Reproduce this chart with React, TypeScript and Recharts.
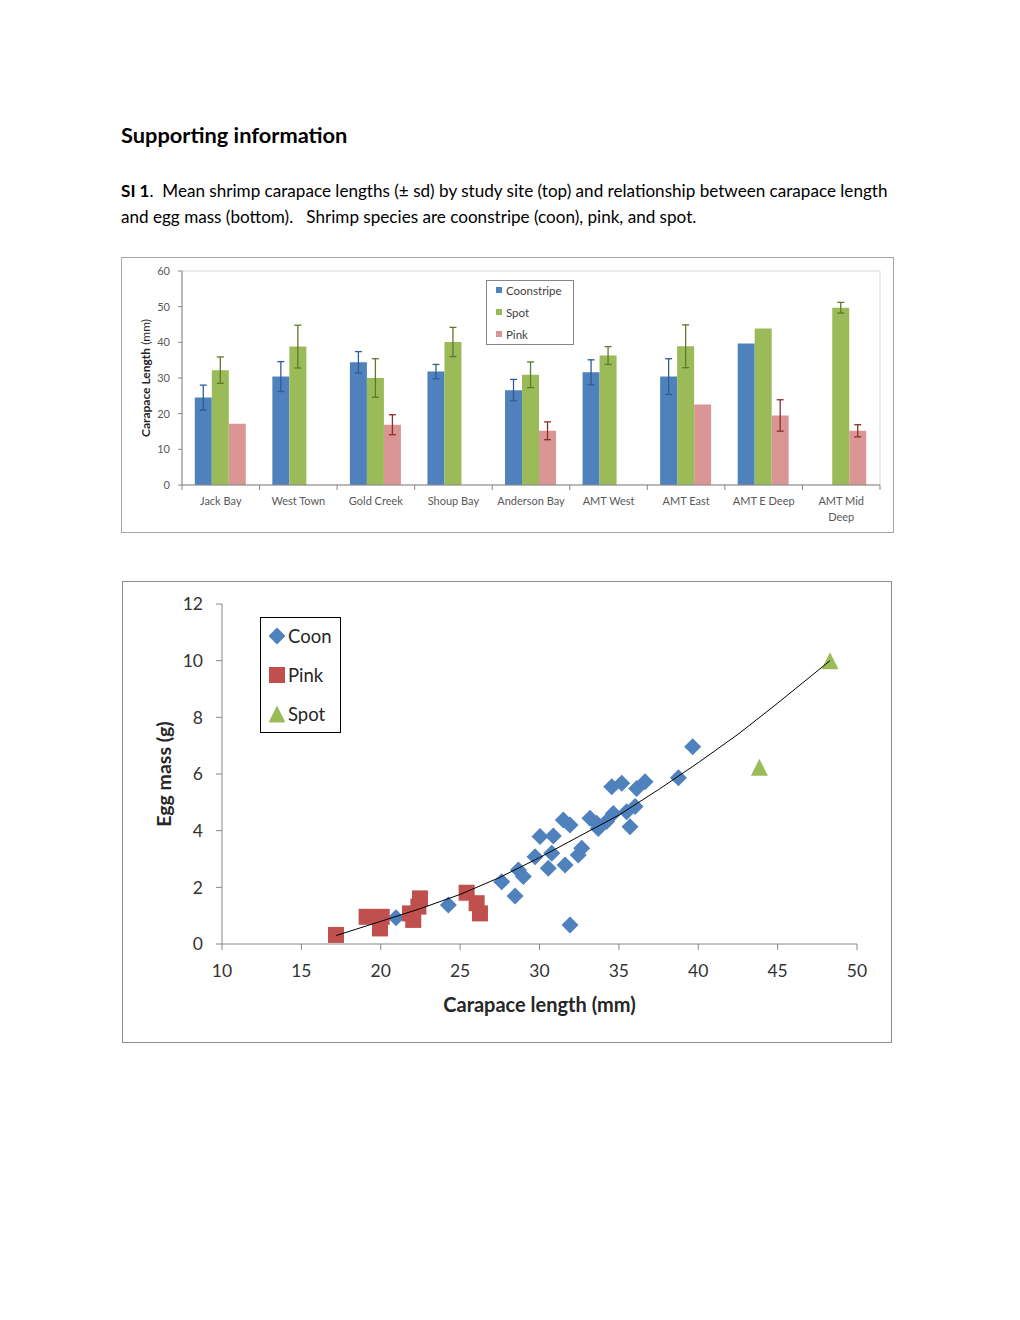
import React from 'react';
import {
  BarChart,
  Bar,
  XAxis,
  YAxis,
  ErrorBar,
  ReferenceArea,
  Label,
  ScatterChart,
  Scatter,
} from 'recharts';

// ---- top panel: mean carapace length by site ----
const sites = [
  'Jack Bay',
  'West Town',
  'Gold Creek',
  'Shoup Bay',
  'Anderson Bay',
  'AMT West',
  'AMT East',
  'AMT E Deep',
  'AMT Mid Deep',
];
const siteTickLabels = [
  'Jack Bay',
  'West Town',
  'Gold Creek',
  'Shoup Bay',
  'Anderson Bay',
  'AMT West',
  'AMT East',
  'AMT E Deep',
  'AMT Mid\nDeep',
];
const coonMean = [24.5, 30.4, 34.4, 31.8, 26.6, 31.6, 30.4, 39.7, null];
const coonSd = [3.5, 4.2, 3.0, 2.0, 3.0, 3.5, 5.0, null, null];
const spotMean = [32.2, 38.8, 30.0, 40.1, 30.9, 36.3, 38.9, 43.9, 49.7];
const spotSd = [3.7, 6.0, 5.4, 4.1, 3.6, 2.5, 6.0, null, 1.5];
const pinkMean = [17.2, null, 16.9, null, 15.2, null, 22.6, 19.5, 15.2];
const pinkSd = [null, null, 2.8, null, 2.5, null, null, 4.4, 1.7];
const barTicks = [0, 10, 20, 30, 40, 50, 60];
const barSeries = ['Coonstripe', 'Spot', 'Pink'];

// ---- bottom panel: egg mass vs carapace length ----
const coonLength = [
  20.96, 24.26, 27.62, 28.46, 28.67, 28.98, 29.72, 30.03, 30.55, 30.87, 30.77,
  31.5, 31.92, 31.61, 31.92, 32.44, 32.66, 33.18, 33.6, 33.7, 34.23, 34.55,
  35.18, 34.65, 35.7, 35.49, 36.02, 36.12, 36.65, 38.75, 39.65,
];
const coonMass = [
  0.93, 1.38, 2.2, 1.69, 2.61, 2.38, 3.08, 3.79, 2.67, 3.81, 3.2,
  4.38, 4.2, 2.79, 0.67, 3.14, 3.38, 4.44, 4.26, 4.08, 4.32, 5.55,
  5.67, 4.61, 4.14, 4.67, 4.85, 5.49, 5.73, 5.87, 6.96,
];
const pinkLength = [17.18, 19.11, 20.06, 19.95, 22.47, 22.37, 21.84, 22.05, 25.41, 26.04, 26.25];
const pinkMass = [0.32, 0.96, 0.96, 0.55, 1.61, 1.32, 1.08, 0.85, 1.81, 1.44, 1.08];
const spotLength = [43.85, 48.3];
const spotMass = [6.24, 10.0];
// trend line
const trendLength = [17.2, 20, 22.5, 25, 27.5, 30, 32.5, 35, 37.5, 40, 42.5, 45, 48.3];
const trendMass = [0.3, 0.8, 1.25, 1.75, 2.35, 3.05, 3.8, 4.55, 5.45, 6.4, 7.4, 8.5, 10.0];
const lengthTicks = [10, 15, 20, 25, 30, 35, 40, 45, 50];
const massTicks = [0, 2, 4, 6, 8, 10, 12];
const scatterSeries = ['Coon', 'Pink', 'Spot'];

const BLUE = '#4f81bd';
const GREEN = '#9bbb59';
const PINK = '#d99694';
const RED = '#c0504d';
const AXIS = '#868686';

const barData = sites.map((site, i) => ({
  site,
  coon: coonMean[i],
  coonSd: coonSd[i],
  spot: spotMean[i],
  spotSd: spotSd[i],
  pink: pinkMean[i],
  pinkSd: pinkSd[i],
}));

const toPoints = (xs: number[], ys: number[]) => xs.map((x, i) => ({ x, y: ys[i] }));
const coonData = toPoints(coonLength, coonMass);
const pinkData = toPoints(pinkLength, pinkMass);
const spotData = toPoints(spotLength, spotMass);
const trendData = toPoints(trendLength, trendMass);

function SiteTick(props: any) {
  const { x, y, payload, index } = props;
  const half = payload?.offset ?? (props.width ?? 698) / sites.length / 2;
  const lines = siteTickLabels[index].split('\n');
  return (
    <g>
      <line x1={x - half} y1={y} x2={x - half} y2={y + 5} stroke={AXIS} />
      {index === sites.length - 1 && (
        <line x1={x + half} y1={y} x2={x + half} y2={y + 5} stroke={AXIS} />
      )}
      <text x={x} y={y} textAnchor="middle" fill="#595959" fontSize={11}>
        {lines.map((l, i) => (
          <tspan key={i} x={x} dy={i === 0 ? 20 : 16}>
            {l}
          </tspan>
        ))}
      </text>
    </g>
  );
}

function barYLabel(props: any) {
  const { x, y, height } = props.viewBox;
  const cx = x + 3;
  const cy = y + height / 2;
  return (
    <text
      x={cx}
      y={cy}
      transform={`rotate(-90 ${cx} ${cy})`}
      textAnchor="middle"
      dominantBaseline="central"
      fontSize={12}
      fill="#262626"
    >
      <tspan fontWeight={700}>Carapace Length</tspan>
      <tspan> (mm)</tspan>
    </text>
  );
}

function massYLabel(props: any) {
  const { x, y, height } = props.viewBox;
  const cx = x + 40;
  const cy = y + height / 2;
  return (
    <text
      x={cx}
      y={cy}
      transform={`rotate(-90 ${cx} ${cy})`}
      textAnchor="middle"
      dominantBaseline="central"
      fontSize={19.5}
      fontWeight={700}
      fill="#262626"
    >
      Egg mass (g)
    </text>
  );
}

function Diamond({ cx, cy }: any) {
  const r = 8.5;
  return <path d={`M${cx},${cy - r}L${cx + r},${cy}L${cx},${cy + r}L${cx - r},${cy}Z`} fill={BLUE} />;
}

function Square({ cx, cy }: any) {
  const h = 8;
  return <rect x={cx - h} y={cy - h} width={2 * h} height={2 * h} fill={RED} />;
}

function Triangle({ cx, cy }: any) {
  const h = 8.5;
  return <path d={`M${cx},${cy - h}L${cx + h},${cy + h}L${cx - h},${cy + h}Z`} fill={GREEN} />;
}

function BarPanel() {
  const colors = [BLUE, GREEN, PINK];
  return (
    <div
      style={{
        position: 'absolute',
        left: 121,
        top: 257,
        width: 771,
        height: 274,
        border: '1px solid #a6a6a6',
      }}
    >
      <BarChart
        width={771}
        height={274}
        data={barData}
        margin={{ top: 13, right: 13, left: 20, bottom: 17 }}
        barCategoryGap="16.5%"
        barGap={0}
      >
        <ReferenceArea y1={0} y2={60} fill="none" stroke="#d9d9d9" />
        <XAxis
          dataKey="site"
          interval={0}
          height={30}
          tick={<SiteTick />}
          tickLine={false}
          tickSize={0}
          tickMargin={0}
          axisLine={{ stroke: AXIS }}
        />
        <YAxis
          domain={[0, 60]}
          ticks={barTicks}
          width={40}
          tickSize={4}
          tickMargin={8}
          tick={{ fill: '#595959', fontSize: 11 }}
          tickLine={{ stroke: AXIS }}
          axisLine={{ stroke: AXIS }}
        >
          <Label content={barYLabel} />
        </YAxis>
        <Bar dataKey="coon" fill={BLUE} isAnimationActive={false}>
          <ErrorBar dataKey="coonSd" width={3.5} stroke="#2d5d96" strokeWidth={1.3} />
        </Bar>
        <Bar dataKey="spot" fill={GREEN} isAnimationActive={false}>
          <ErrorBar dataKey="spotSd" width={3.5} stroke="#5c7a2a" strokeWidth={1.3} />
        </Bar>
        <Bar dataKey="pink" fill={PINK} isAnimationActive={false}>
          <ErrorBar dataKey="pinkSd" width={3.5} stroke="#8c2d2b" strokeWidth={1.3} />
        </Bar>
      </BarChart>
      <div
        style={{
          position: 'absolute',
          left: 364,
          top: 22,
          width: 86,
          height: 63,
          border: `1px solid ${AXIS}`,
          background: '#fff',
          fontSize: 11.5,
          color: '#404040',
        }}
      >
        {barSeries.map((name, i) => (
          <div
            key={name}
            style={{ position: 'absolute', left: 9, top: 2 + i * 22, height: 14, display: 'flex', alignItems: 'center' }}
          >
            <span style={{ width: 6, height: 6, background: colors[i], marginRight: 4 }} />
            {name}
          </div>
        ))}
      </div>
    </div>
  );
}

function ScatterPanel() {
  const markers = [
    <svg key="c" width={16} height={18}><Diamond cx={8} cy={9} /></svg>,
    <svg key="p" width={16} height={18}><Square cx={8} cy={9} /></svg>,
    <svg key="s" width={16} height={18}><Triangle cx={8} cy={9} /></svg>,
  ];
  return (
    <div
      style={{
        position: 'absolute',
        left: 122,
        top: 581,
        width: 768,
        height: 460,
        border: '1px solid #8c8c8c',
      }}
    >
      <ScatterChart width={768} height={460} margin={{ top: 22, right: 34, left: 0, bottom: 0 }}>
        <XAxis
          type="number"
          dataKey="x"
          domain={[10, 50]}
          ticks={lengthTicks}
          height={98}
          tickSize={6}
          tickMargin={15}
          tick={{ fill: '#333', fontSize: 17.5 }}
          tickLine={{ stroke: AXIS }}
          axisLine={{ stroke: AXIS }}
        >
          <Label
            value="Carapace length (mm)"
            position="insideBottom"
            offset={30}
            fontSize={20}
            fontWeight={700}
            fill="#262626"
          />
        </XAxis>
        <YAxis
          type="number"
          dataKey="y"
          domain={[0, 12]}
          ticks={massTicks}
          width={99}
          tickSize={6}
          tickMargin={13}
          tick={{ fill: '#333', fontSize: 17.5 }}
          tickLine={{ stroke: AXIS }}
          axisLine={{ stroke: AXIS }}
        >
          <Label content={massYLabel} />
        </YAxis>
        <Scatter name="Coon" data={coonData} shape={<Diamond />} isAnimationActive={false} />
        <Scatter name="Pink" data={pinkData} shape={<Square />} isAnimationActive={false} />
        <Scatter name="Spot" data={spotData} shape={<Triangle />} isAnimationActive={false} />
        <Scatter
          data={trendData}
          line={{ stroke: '#000', strokeWidth: 1 }}
          lineType="joint"
          shape={() => <g />}
          isAnimationActive={false}
        />
      </ScatterChart>
      <div
        style={{
          position: 'absolute',
          left: 137,
          top: 35,
          width: 79,
          height: 114,
          border: '1px solid #000',
          background: '#fff',
          fontSize: 18.5,
          color: '#262626',
        }}
      >
        {scatterSeries.map((name, i) => (
          <div
            key={name}
            style={{ position: 'absolute', left: 8, top: 7 + i * 39, height: 22, display: 'flex', alignItems: 'center' }}
          >
            <span style={{ display: 'flex', marginRight: 3 }}>{markers[i]}</span>
            {name}
          </div>
        ))}
      </div>
    </div>
  );
}

export default function App() {
  return (
    <div
      style={{
        position: 'absolute',
        left: 0,
        top: 0,
        width: 1020,
        height: 1320,
        background: '#fff',
        fontFamily: 'Lato, "Open Sans", sans-serif',
        color: '#000',
      }}
    >
      <div style={{ position: 'absolute', left: 121, top: 122, fontSize: 21.8, fontWeight: 700, lineHeight: '26px' }}>
        Supporting information
      </div>
      <div
        style={{
          position: 'absolute',
          left: 121,
          top: 178,
          fontSize: 17.1,
          lineHeight: '26px',
          whiteSpace: 'pre',
        }}
      >
        <b>SI 1</b>
        {'.  Mean shrimp carapace lengths (± sd) by study site (top) and relationship between carapace length'}
        <br />
        {'and egg mass (bottom).   Shrimp species are coonstripe (coon), pink, and spot.'}
      </div>
      <BarPanel />
      <ScatterPanel />
    </div>
  );
}
